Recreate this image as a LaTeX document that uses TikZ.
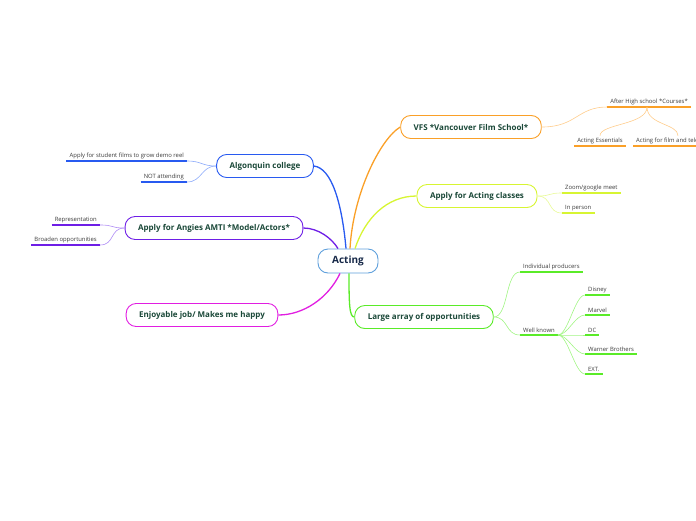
\documentclass[tikz,border=0pt]{standalone}
\usepackage{fontspec}
\setmainfont{Open Sans}
\usepackage{tikz}
\usepackage{xcolor}
\usetikzlibrary{positioning}
\definecolor{rootblue}{RGB}{95,160,220}
\definecolor{roottext}{RGB}{22,40,72}
\definecolor{topictext}{RGB}{26,72,56}
\definecolor{leaftext}{RGB}{60,60,60}
\definecolor{vfsorange}{RGB}{250,160,40}
\definecolor{vfslight}{RGB}{255,205,140}
\definecolor{algblue}{RGB}{40,90,240}
\definecolor{alglight}{RGB}{140,170,250}
\definecolor{angpurple}{RGB}{110,30,230}
\definecolor{anglight}{RGB}{175,140,245}
\definecolor{joymagenta}{RGB}{225,30,225}
\definecolor{clsyellow}{RGB}{215,245,50}
\definecolor{clslight}{RGB}{232,250,150}
\definecolor{oppgreen}{RGB}{90,235,40}
\definecolor{opplight}{RGB}{160,245,130}

\begin{document}
\begin{tikzpicture}[x=1pt, y=-1pt,
    root/.style={draw=rootblue, line width=0.9pt, fill=white, rounded corners=10pt,
      minimum height=24pt, minimum width=60pt, text=roottext,
      font=\fontsize{10}{12}\selectfont\bfseries},
    topic/.style={draw=#1, line width=0.9pt, fill=white, rounded corners=10pt,
      minimum height=23pt, inner xsep=13pt, text=topictext,
      font=\fontsize{8}{9.5}\selectfont\bfseries},
    leaf/.style={inner xsep=3pt, inner ysep=2pt, text=leaftext,
      font=\fontsize{5.9}{7}\selectfont,
      append after command={(\tikzlastnode.south west) edge[draw=#1, line width=1.4pt] (\tikzlastnode.south east)}},
    main/.style={line width=1.3pt, draw=#1},
    twig/.style={line width=0.6pt, draw=#1}]
  \useasboundingbox (0,0) rectangle (696,520);
  \clip (0,0) rectangle (696,520);

  % centre and main topics
  \node[root] (act) at (348,261) {Acting};
  \node[topic=vfsorange] (vfs) at (471,127) {VFS *Vancouver Film School*};
  \node[topic=algblue] (alg) at (265,166) {Algonquin college};
  \node[topic=angpurple] (ang) at (214,228) {Apply for Angies AMTI *Model/Actors*};
  \node[topic=joymagenta] (joy) at (202,315) {Enjoyable job/ Makes me happy};
  \node[topic=clsyellow] (cls) at (477,196) {Apply for Acting classes};
  \node[topic=oppgreen] (opp) at (424,317) {Large array of opportunities};

  \draw[main=algblue] ([xshift=-2pt]act.north) .. controls +(-4,-45) and +(18,2) .. (alg.east);
  \draw[main=vfsorange] ([xshift=2pt]act.north) .. controls +(3,-55) and +(-20,12) .. (vfs.west);
  \draw[main=clsyellow] ([xshift=7pt]act.north) .. controls +(10,-30) and +(-30,0) .. (cls.west);
  \draw[main=angpurple] ([xshift=-10pt]act.north) .. controls +(-6,-10) and +(15,0) .. (ang.east);
  \draw[main=joymagenta] ([xshift=-8pt]act.south) .. controls +(-12,25) and +(25,0) .. (joy.east);
  \draw[main=oppgreen] ([xshift=1pt]act.south) .. controls +(0,30) and +(-5,0) .. (opp.west);

  % VFS
  \node[leaf=vfsorange, anchor=south east] (ahs) at (691,107) {After High school *Courses*};
  \node[leaf=vfsorange, anchor=south] (ess) at (600,146) {Acting Essentials};
  \node[leaf=vfsorange, anchor=south west] (ftv) at (633,146) {Acting for film and television};
  \coordinate (ahsmid) at (647,107);
  \draw[twig=vfslight] (vfs.east) .. controls +(35,0) and +(-30,0) .. (ahs.south west);
  \draw[twig=vfslight] (ahsmid) .. controls +(0,18) and +(0,-12) .. (ess.north);
  \draw[twig=vfslight] (ahsmid) .. controls +(0,18) and +(0,-12) .. (ftv.north -| 678,0);

  % Algonquin
  \node[leaf=algblue, anchor=south east] (dem) at (187,161) {Apply for student films to grow demo reel};
  \node[leaf=algblue, anchor=south east] (nat) at (187,182) {NOT attending};
  \draw[twig=alglight] (alg.west) .. controls +(-15,0) and +(15,0) .. (dem.south east);
  \draw[twig=alglight] (alg.west) .. controls +(-15,0) and +(15,0) .. (nat.south east);

  % Angies
  \node[leaf=angpurple, anchor=south east] (rep) at (100,225) {Representation};
  \node[leaf=angpurple, anchor=south east] (bro) at (100,245) {Broaden opportunities};
  \draw[twig=anglight] (ang.west) .. controls +(-15,0) and +(15,0) .. (rep.south east);
  \draw[twig=anglight] (ang.west) .. controls +(-15,0) and +(15,0) .. (bro.south east);

  % classes
  \node[leaf=clsyellow, anchor=south west] (zoo) at (562,193) {Zoom/google meet};
  \node[leaf=clsyellow, anchor=south west] (inp) at (562,213) {In person};
  \draw[twig=clslight] (cls.east) .. controls +(15,0) and +(-15,0) .. (zoo.south west);
  \draw[twig=clslight] (cls.east) .. controls +(15,0) and +(-15,0) .. (inp.south west);

  % opportunities
  \node[leaf=oppgreen, anchor=south west] (ind) at (520,272) {Individual producers};
  \node[leaf=oppgreen, anchor=south west] (wkn) at (520,335) {Well known};
  \draw[twig=opplight] (opp.east) .. controls +(15,0) and +(-15,0) .. (ind.south west);
  \draw[twig=opplight] (opp.east) .. controls +(15,0) and +(-15,0) .. (wkn.south west);

  \node[leaf=oppgreen, anchor=south west] (dis) at (585,295) {Disney};
  \node[leaf=oppgreen, anchor=south west] (mar) at (585,315) {Marvel};
  \node[leaf=oppgreen, anchor=south west] (dcc) at (585,335) {DC};
  \node[leaf=oppgreen, anchor=south west] (wbr) at (585,354) {Warner Brothers};
  \node[leaf=oppgreen, anchor=south west] (ext) at (585,374) {EXT.};
  \foreach \n in {dis,mar,dcc,wbr,ext}
    \draw[twig=opplight] (wkn.south east) .. controls +(10,0) and +(-10,0) .. (\n.south west);
\end{tikzpicture}
\end{document}
